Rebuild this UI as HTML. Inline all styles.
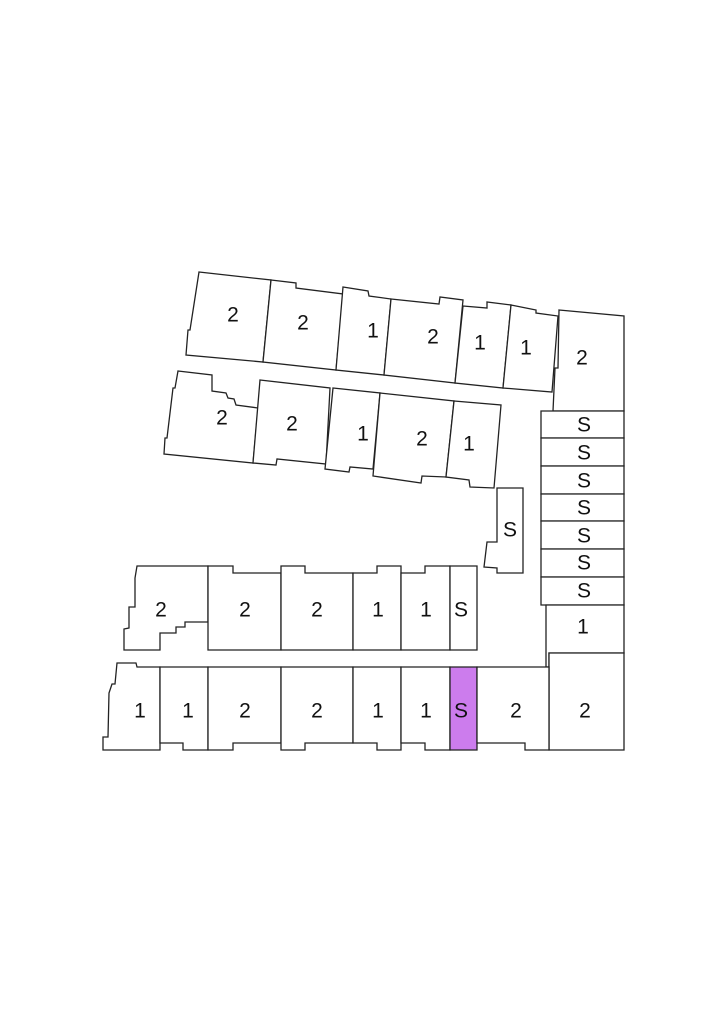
<!DOCTYPE html>
<html><head><style>
html,body{margin:0;padding:0;background:#fff;width:724px;height:1024px;overflow:hidden}
svg{display:block}
text{font-family:"Liberation Sans",Arial,sans-serif;font-size:21px;fill:#111;text-anchor:middle;dominant-baseline:central}
polygon{fill:#fff;stroke:#222;stroke-width:1.3;stroke-linejoin:miter}
</style></head><body>
<svg width="724" height="1024" viewBox="0 0 724 1024" xmlns="http://www.w3.org/2000/svg">
<polygon points="199,272 271,280 263,362 186,355 188,330 190,330"/>
<polygon points="271,280 296,283 296,288 343,294 336,370 263,362"/>
<polygon points="343,287 368,291 369,296 391,299 384,375 336,370"/>
<polygon points="391,299 439,304 440,297 463,300 455,383 384,375"/>
<polygon points="463,306 487,308 487,302 511,305 503,388 455,383"/>
<polygon points="511,305 536,310 536,313 558,316 552,392 503,388"/>
<polygon points="559,310 624,316 624,411 553,411 555,368 558,368"/>
<polygon points="178,371 212,375 212,391 226,393 228,398 234,399 236,405 258,408 253,463 164,454 165,438 167,438 173,388 175,388"/>
<polygon points="260,380 330,388 326,464 277,459 276,465 253,463"/>
<polygon points="333,388 380,393 373,469 350,467 349,472 325,469"/>
<polygon points="380,393 454,401 446,477 422,476 421,483 373,476"/>
<polygon points="454,401 501,405 494,488 470,487 469,480 446,477"/>
<polygon points="497,488 523,488 523,573 497,573 497,568 484,567 487,542 497,542"/>
<polygon points="541,411 624,411 624,438 541,438"/>
<polygon points="541,438 624,438 624,466 541,466"/>
<polygon points="541,466 624,466 624,494 541,494"/>
<polygon points="541,494 624,494 624,521 541,521"/>
<polygon points="541,521 624,521 624,549 541,549"/>
<polygon points="541,549 624,549 624,577 541,577"/>
<polygon points="541,577 624,577 624,605 541,605"/>
<polygon points="546,605 624,605 624,653 549,653 549,667 546,667"/>
<polygon points="549,653 624,653 624,750 549,750"/>
<polygon points="137,566 208,566 208,622 185,622 185,627 176,627 176,633 160,633 160,650 124,650 124,629 129,628 129,607 135,607 135,578"/>
<polygon points="208,566 233,566 233,573 281,573 281,650 208,650"/>
<polygon points="281,566 305,566 305,573 353,573 353,650 281,650"/>
<polygon points="353,573 377,573 377,566 401,566 401,650 353,650"/>
<polygon points="401,573 425,573 425,566 450,566 450,650 401,650"/>
<polygon points="450,566 477,566 477,650 450,650"/>
<polygon points="117,663 136,663 137,667 160,667 160,750 103,750 103,737 108,737 109,693 112,684 115,684"/>
<polygon points="160,667 208,667 208,750 183,750 183,743 160,743"/>
<polygon points="208,667 281,667 281,743 233,743 233,750 208,750"/>
<polygon points="281,667 353,667 353,743 305,743 305,750 281,750"/>
<polygon points="353,667 401,667 401,750 377,750 377,743 353,743"/>
<polygon points="401,667 450,667 450,750 425,750 425,743 401,743"/>
<polygon points="450,667 477,667 477,750 450,750" style="fill:#cc7ced"/>
<polygon points="477,667 549,667 549,750 525,750 525,743 477,743"/>
<text x="233" y="315">2</text><text x="303" y="323">2</text><text x="373" y="331">1</text>
<text x="433" y="337">2</text><text x="480" y="343">1</text><text x="526" y="348">1</text>
<text x="582" y="358">2</text>
<text x="222" y="418">2</text><text x="292" y="424">2</text><text x="363" y="434">1</text>
<text x="422" y="439">2</text><text x="469" y="444">1</text>
<text x="510" y="530">S</text>
<text x="584" y="425">S</text><text x="584" y="453">S</text><text x="584" y="481">S</text>
<text x="584" y="508">S</text><text x="584" y="536">S</text><text x="584" y="563">S</text>
<text x="584" y="591">S</text><text x="583" y="627">1</text><text x="585" y="711">2</text>
<text x="161" y="610">2</text><text x="245" y="610">2</text><text x="317" y="610">2</text>
<text x="378" y="610">1</text><text x="426" y="610">1</text><text x="461" y="610">S</text>
<text x="140" y="711">1</text><text x="188" y="711">1</text><text x="245" y="711">2</text>
<text x="317" y="711">2</text><text x="378" y="711">1</text><text x="426" y="711">1</text>
<text x="461" y="711">S</text><text x="516" y="711">2</text>
</svg>
</body></html>
